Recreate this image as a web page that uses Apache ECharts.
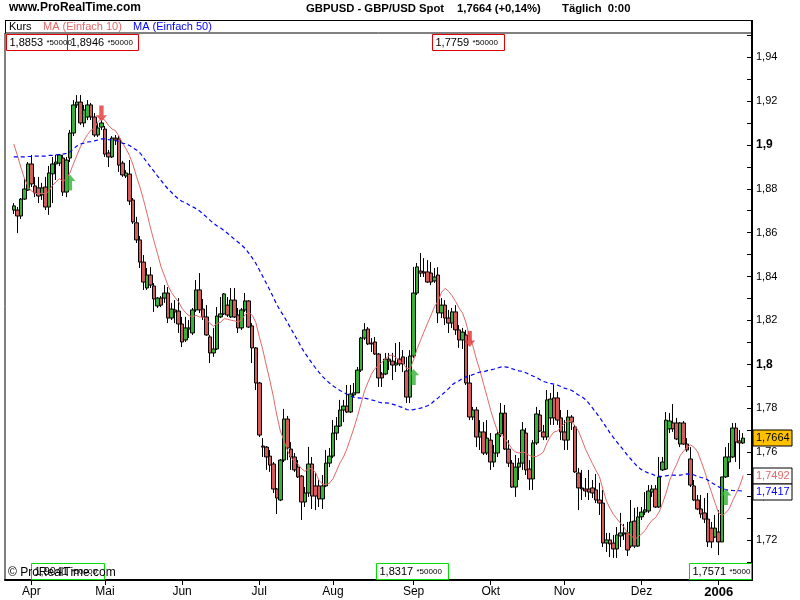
<!DOCTYPE html>
<html><head><meta charset="utf-8">
<script src="https://cdn.jsdelivr.net/npm/echarts@6/dist/echarts.min.js"></script>
<style>html,body{margin:0;padding:0;background:#fff}#c{width:800px;height:600px}</style>
</head><body><div id="c"></div>
<script>
// ---------- DATA ----------
const startDate = '2005-03-25'; // first daily candle (weekdays only)
const open = [1.8703,1.8703,1.8676,1.8753,1.8794,1.8913,1.8813,1.8804,1.8772,1.8808,
1.8717,1.8868,1.8913,1.8917,1.894,1.8785,1.894,1.9054,1.9182,1.9195,
1.91,1.9127,1.9182,1.9127,1.9045,1.9081,1.9072,1.8963,1.8945,1.9031,
1.9027,1.8917,1.8858,1.8867,1.8749,1.8645,1.8567,1.8466,1.8348,1.8407,
1.8357,1.8266,1.8302,1.8302,1.8325,1.8211,1.8248,1.8243,1.8184,1.8111,
1.8161,1.8143,1.8248,1.8339,1.8252,1.8216,1.8125,1.8052,1.807,1.8216,
1.823,1.827,1.8216,1.8293,1.8225,1.8166,1.8248,1.8289,1.8175,1.8075,
1.7915,1.7628,1.7623,1.7582,1.7546,1.7432,1.7382,1.7564,1.7751,1.7614,
1.7578,1.7532,1.7491,1.7373,1.7414,1.7546,1.7446,1.7446,1.7387,1.7446,
1.755,1.7582,1.7687,1.7719,1.7792,1.781,1.7783,1.7861,1.787,1.7974,
1.812,1.8161,1.8097,1.8102,1.8047,1.7956,1.7956,1.8024,1.8015,1.7997,
1.8024,1.8034,1.797,1.7851,1.8038,1.8325,1.8425,1.8421,1.8421,1.8416,
1.838,1.8407,1.8234,1.827,1.8211,1.8188,1.8239,1.8157,1.8111,1.8134,
1.7915,1.776,1.7792,1.7669,1.7692,1.7596,1.7655,1.7555,1.7596,1.7683,
1.7778,1.7614,1.755,1.7441,1.7532,1.755,1.7687,1.7523,1.7478,1.7642,
1.7769,1.7692,1.7669,1.7756,1.7847,1.7847,1.7756,1.7692,1.7655,1.776,
1.7715,1.7505,1.7437,1.7432,1.7432,1.7437,1.7428,1.7382,1.7368,1.7186,
1.72,1.7186,1.7159,1.7218,1.7227,1.7232,1.7172,1.7286,1.7172,1.7305,
1.7327,1.7332,1.7418,1.7432,1.735,1.7519,1.7523,1.7706,1.7733,1.7733,
1.7637,1.7733,1.7637,1.7569,1.7446,1.7382,1.7341,1.7323,1.7295,1.7254,
1.7213,1.7236,1.7191,1.7487,1.7555,1.7578,1.771,1.7651,1.7642];
const close = [1.8722,1.8676,1.8753,1.8799,1.8913,1.8822,1.8781,1.8767,1.8804,1.8717,
1.8872,1.8913,1.8922,1.8954,1.8785,1.8931,1.9054,1.9182,1.9195,1.91,
1.9159,1.9182,1.9127,1.9045,1.9077,1.91,1.8958,1.8945,1.9031,1.9022,
1.8908,1.8863,1.8872,1.8744,1.8649,1.8567,1.8466,1.8375,1.8407,1.8361,
1.8298,1.8302,1.827,1.8325,1.8211,1.8252,1.8239,1.8184,1.8102,1.8166,
1.8166,1.8248,1.8339,1.8248,1.8216,1.8134,1.8052,1.807,1.822,1.823,
1.8321,1.8225,1.8293,1.8216,1.8166,1.8248,1.8289,1.817,1.8075,1.7915,
1.7678,1.7623,1.7578,1.7541,1.7432,1.7391,1.7564,1.7751,1.7619,1.7578,
1.7519,1.7487,1.7373,1.7414,1.7546,1.74,1.74,1.7387,1.7446,1.755,
1.7582,1.7687,1.7719,1.7792,1.781,1.7783,1.7865,1.787,1.7974,1.812,
1.8157,1.8093,1.8093,1.8047,1.7938,1.7938,1.8024,1.8015,1.7997,1.8006,
1.8002,1.8002,1.7851,1.8038,1.8325,1.8444,1.8416,1.8416,1.8375,1.8375,
1.8398,1.8234,1.827,1.8211,1.8188,1.8239,1.8157,1.8111,1.8147,1.7915,
1.776,1.7792,1.7669,1.7692,1.7596,1.7664,1.7555,1.7596,1.7683,1.7778,
1.7614,1.755,1.7441,1.7532,1.755,1.7701,1.7519,1.7478,1.7642,1.7774,
1.7696,1.7669,1.7838,1.7842,1.7756,1.7746,1.7692,1.7655,1.776,1.7737,
1.751,1.7437,1.7432,1.7423,1.7418,1.7414,1.7382,1.7368,1.7186,1.72,
1.7182,1.7159,1.7223,1.7232,1.7232,1.7154,1.7282,1.7172,1.7305,1.7327,
1.7337,1.7423,1.7432,1.735,1.7487,1.7555,1.7746,1.7742,1.7706,1.766,
1.7733,1.7637,1.761,1.745,1.7382,1.7341,1.7318,1.7295,1.7191,1.7191,
1.7254,1.7191,1.7487,1.7578,1.7578,1.771,1.7646,1.7642,1.7664];
const low = [1.8685,1.8598,1.8662,1.8749,1.879,1.8808,1.8762,1.8735,1.8749,1.8703,
1.8681,1.8735,1.884,1.8904,1.8767,1.8762,1.8922,1.904,1.9168,1.9091,
1.9081,1.9113,1.9113,1.9036,1.9036,1.9068,1.8945,1.8899,1.894,1.8999,
1.8877,1.8854,1.8849,1.8726,1.864,1.8553,1.8439,1.8339,1.8339,1.8348,
1.8239,1.8257,1.8261,1.828,1.8188,1.8202,1.8188,1.8143,1.8079,1.8102,
1.812,1.8134,1.8239,1.8234,1.8202,1.813,1.8006,1.8034,1.8065,1.8211,
1.8225,1.8216,1.8211,1.8211,1.8143,1.8157,1.8239,1.8166,1.8006,1.7883,
1.7669,1.7578,1.7519,1.751,1.7414,1.7318,1.7377,1.7555,1.7564,1.7519,
1.751,1.7482,1.7291,1.735,1.7396,1.7341,1.7336,1.735,1.7341,1.7441,
1.7532,1.7573,1.7655,1.7715,1.7737,1.7778,1.7778,1.7851,1.787,1.7965,
1.8111,1.8088,1.8056,1.8043,1.7897,1.7897,1.7951,1.7974,1.7929,1.7965,
1.7992,1.7965,1.7824,1.7824,1.8029,1.8316,1.8398,1.8398,1.8371,1.8361,
1.8371,1.8188,1.8211,1.8179,1.8143,1.8166,1.8134,1.8075,1.807,1.7906,
1.7746,1.7746,1.7623,1.761,1.7587,1.7587,1.7519,1.7532,1.7578,1.7669,
1.761,1.7532,1.7437,1.7396,1.7473,1.7519,1.7496,1.7428,1.7428,1.7633,
1.7692,1.7655,1.7655,1.7724,1.7724,1.7724,1.7655,1.761,1.761,1.7701,
1.7505,1.7336,1.7382,1.7396,1.7382,1.7391,1.7368,1.7314,1.7168,1.7145,
1.7122,1.7118,1.7118,1.7168,1.72,1.7127,1.7163,1.7163,1.7168,1.7291,
1.7314,1.7323,1.7396,1.7346,1.7346,1.7514,1.7519,1.7687,1.7692,1.7655,
1.7623,1.7633,1.7601,1.7441,1.7377,1.7336,1.73,1.7277,1.7168,1.7163,
1.7209,1.7131,1.7191,1.7482,1.7487,1.7573,1.7555,1.7523,1.7637];
const high = [1.8735,1.8717,1.8758,1.8845,1.8922,1.8954,1.8854,1.8854,1.8827,1.8854,
1.8904,1.8945,1.8954,1.8958,1.8954,1.8945,1.9068,1.9204,1.9227,1.9227,
1.9182,1.9204,1.9191,1.9145,1.9104,1.9113,1.9086,1.8977,1.904,1.9045,
1.904,1.8927,1.8885,1.8931,1.8758,1.8672,1.8585,1.8498,1.8439,1.8443,
1.837,1.8307,1.8311,1.8361,1.8352,1.828,1.8293,1.8302,1.8216,1.8216,
1.8202,1.8257,1.8384,1.8416,1.8298,1.827,1.8134,1.8166,1.8261,1.8307,
1.8325,1.8307,1.8348,1.8348,1.8257,1.8257,1.8325,1.8293,1.8188,1.8079,
1.792,1.7664,1.7628,1.761,1.7555,1.7437,1.7569,1.7797,1.7765,1.7646,
1.7596,1.7564,1.7496,1.7441,1.7624,1.7578,1.7505,1.7473,1.7496,1.761,
1.7619,1.7746,1.776,1.7838,1.7838,1.7906,1.7906,1.7915,1.7988,1.8125,
1.8188,1.817,1.812,1.8125,1.8052,1.7965,1.8052,1.8052,1.8052,1.8097,
1.8102,1.8065,1.8034,1.8065,1.8444,1.8462,1.8507,1.8484,1.8475,1.8466,
1.8439,1.8443,1.8302,1.8293,1.8248,1.8257,1.827,1.8179,1.8166,1.8157,
1.7952,1.7806,1.7806,1.7746,1.7737,1.7746,1.7687,1.7633,1.7701,1.7824,
1.7815,1.7655,1.7564,1.7587,1.7573,1.7737,1.771,1.7564,1.7655,1.7806,
1.7792,1.7724,1.7883,1.787,1.7906,1.7874,1.7792,1.7746,1.7792,1.7769,
1.7724,1.7528,1.7519,1.7482,1.7519,1.7473,1.7501,1.746,1.7428,1.7232,
1.7232,1.7223,1.7259,1.7323,1.7273,1.7282,1.7382,1.7346,1.735,1.735,
1.7418,1.745,1.745,1.745,1.7578,1.7578,1.7783,1.7778,1.7819,1.7756,
1.7737,1.7742,1.7664,1.7623,1.7473,1.7405,1.7405,1.7391,1.7414,1.7282,
1.7314,1.7336,1.7487,1.7623,1.7642,1.7733,1.7733,1.7701,1.7687];
// moving averages before enough candles exist in the window
const ma10Lead = [1.9004,1.8954,1.8899,1.8849,1.8813,1.879,1.8781,1.8776,1.8781];
const ma50Lead = [1.8945,1.8945,1.8945,1.8945,1.8947,1.8947,1.8949,1.8949,1.8949,1.8949,
1.8952,1.8952,1.8954,1.8956,1.8958,1.8961,1.8967,1.8981,1.8995,1.9004,
1.9008,1.9013,1.9015,1.9018,1.9022,1.9027,1.9027,1.9024,1.9022,1.902,
1.9015,1.9008,1.9004,1.8997,1.8986,1.8977,1.8963,1.8942,1.892,1.8899,
1.8879,1.8858,1.8838,1.8817,1.8799,1.8783,1.8767,1.8753,1.8742];
// signal arrows: [candle index, price at arrow tip]
const buyArrows = [[16, 1.8865], [114, 1.7979], [203, 1.7432]];
const sellArrows = [[25, 1.9106], [130, 1.8079]];
// axis tick labels
const monthNames = ['Jan','Feb','Mär','Apr','Mai','Jun','Jul','Aug','Sep','Okt','Nov','Dez'];
const yLabelValues = [1.72,1.74,1.76,1.78,1.8,1.82,1.84,1.86,1.88,1.9,1.92,1.94];
const yTickValues = [1.71,1.72,1.73,1.74,1.75,1.76,1.77,1.78,1.79,1.8,1.81,1.82,1.83,1.84,1.85,1.86,1.87,1.88,1.89,1.9,1.91,1.92,1.93,1.94,1.95];
// right-side value tags
const lastPrice = 1.7664, lastMA10 = 1.7492, lastMA50 = 1.7417;

// ---------- BUILD ----------
function weekdays(start, n){
  const out=[]; const d=new Date(start+'T00:00:00Z');
  while(out.length<n){ const w=d.getUTCDay(); if(w!==0&&w!==6) out.push(d.toISOString().slice(0,10)); d.setUTCDate(d.getUTCDate()+1);} return out;
}
const PADL = 2, PADR = 2;
const dates = weekdays(startDate, open.length);
const cats = [];
for (let k=0;k<PADL;k++) cats.push('pl'+k);
dates.forEach(d=>cats.push(d));
for (let k=0;k<PADR;k++) cats.push('pr'+k);
const isDate = v => /^\d{4}-\d{2}-\d{2}$/.test(v);
function isMonthStart(idx){
  const v=cats[idx], p=cats[idx-1];
  return isDate(v) && p!==undefined && isDate(p) && v.slice(5,7)!==p.slice(5,7);
}
const candleData = open.map((o,i)=>[i+PADL, o, close[i], low[i], high[i]]);
function sma(n, lead){
  return close.map((c,i)=>{
    if (i < n-1) return [i+PADL, lead[i]];
    let s=0; for(let k=i-n+1;k<=i;k++) s+=close[k];
    return [i+PADL, +(s/n).toFixed(5)];
  });
}
const ma10 = sma(10, ma10Lead), ma50 = sma(50, ma50Lead);

const FONT = '"Liberation Sans", Arial, sans-serif';
const upArrow = 'path://M5,0 L10,6 L7,6 L7,15 L3,15 L3,6 L0,6 Z';
const downArrow = 'path://M3,0 L7,0 L7,9 L10,9 L5,15 L0,9 L3,9 Z';

const chart = echarts.init(document.getElementById('c'));
const option = {
  animation:false,
  backgroundColor:'#fff',
  textStyle:{fontFamily:FONT},
  grid:{left:5, right:48, top:33, bottom:20, show:true, borderColor:'#000', borderWidth:1, backgroundColor:'transparent'},
  xAxis:{
    type:'category', data:cats, boundaryGap:true,
    axisLine:{show:true, lineStyle:{color:'#000', width:2}},
    axisTick:{show:true, alignWithLabel:true, length:5, interval:(i)=>isMonthStart(i), lineStyle:{color:'#000'}},
    axisLabel:{interval:(i)=>isMonthStart(i), margin:6, color:'#000', fontSize:12, fontFamily:FONT,
      formatter:(v)=>{ const m=+v.slice(5,7); return m===1 ? '{y|'+v.slice(0,4)+'}' : monthNames[m-1]; },
      rich:{y:{fontWeight:'bold', fontSize:13, fontFamily:FONT, color:'#000'}}},
    splitLine:{show:false}
  },
  yAxis:{
    type:'value', position:'right', min:1.70175, max:1.95097, scale:true,
    axisLine:{show:true, lineStyle:{color:'#000', width:2}},
    axisTick:{show:true, inside:true, length:5, customValues:yTickValues, lineStyle:{color:'#000'}},
    axisLabel:{show:true, customValues:yLabelValues, margin:4, color:'#000', fontSize:11, fontFamily:FONT,
      formatter:(v)=>{ const r=Math.round(v*100)/100; const s=String(r).replace('.',',');
        return Math.abs(r*10-Math.round(r*10))<1e-6 ? '{b|'+s+'}' : s; },
      rich:{b:{fontWeight:'bold', fontSize:12, fontFamily:FONT, color:'#000'}}},
    splitLine:{show:false}
  },
  series:[
    {type:'candlestick', data:candleData, encode:{x:0, y:[1,2,3,4]}, barWidth:4,
      itemStyle:{color:'#36b336', color0:'#d65a5a', borderColor:'#000', borderColor0:'#000', borderWidth:1}},
    {type:'line', data:ma10, showSymbol:false, symbol:'none', lineStyle:{color:'#e26868', width:1}, z:3},
    {type:'line', data:ma50, showSymbol:false, symbol:'none', lineStyle:{color:'#0000ff', width:1.2, type:[4,3]}, z:3},
    {type:'scatter', data:buyArrows.map(a=>[a[0]+PADL, a[1]]), symbol:upArrow, symbolSize:[11,16], symbolOffset:[0,8],
      itemStyle:{color:'#33b233'}, z:5},
    {type:'scatter', data:sellArrows.map(a=>[a[0]+PADL, a[1]]), symbol:downArrow, symbolSize:[11,16], symbolOffset:[0,-8],
      itemStyle:{color:'#e53535'}, z:5}
  ]
};
chart.setOption(option);

function boxText(x, y, w, h, stroke, main, small, fill){
  return {type:'group', children:[
    {type:'rect', shape:{x:x, y:y, width:w, height:h}, style:{fill:fill||'#fff', stroke:stroke, lineWidth:1}, z:10},
    {type:'text', x:x+3, y:y+h/2, style:{text:'{m|'+main+'} {s|'+small+'}', verticalAlign:'middle',
      rich:{m:{fontSize:11, fontFamily:FONT, fill:'#000'}, s:{fontSize:8, fontFamily:FONT, fill:'#000'}}}, z:11}
  ]};
}
const yPx = v => chart.convertToPixel({yAxisIndex:0}, v);
function tag(v, text, color, bg){
  const y = Math.round(yPx(v));
  return {type:'group', children:[
    {type:'rect', shape:{x:753, y:y-8, width:39, height:16}, style:{fill:bg, stroke:'#000', lineWidth:1}, z:10},
    {type:'text', x:756, y:y, style:{text:text, fill:color, fontSize:11, fontFamily:FONT, verticalAlign:'middle'}, z:11}
  ]};
}
chart.setOption({graphic:[
  {type:'text', x:9, y:2, style:{text:'www.ProRealTime.com', fontSize:12, fontWeight:'bold', fontFamily:FONT, fill:'#000'}},
  {type:'text', x:306, y:3, style:{text:'GBPUSD - GBP/USD Spot', fontSize:11.3, fontWeight:'bold', fontFamily:FONT, fill:'#000'}},
  {type:'text', x:457, y:3, style:{text:'1,7664 (+0,14%)', fontSize:11.3, fontWeight:'bold', fontFamily:FONT, fill:'#000'}},
  {type:'text', x:562, y:3, style:{text:'Täglich  0:00', fontSize:11.3, fontWeight:'bold', fontFamily:FONT, fill:'#000'}},
  {type:'line', shape:{x1:5, y1:20.5, x2:753, y2:20.5}, style:{stroke:'#000', lineWidth:1}},
  {type:'line', shape:{x1:5.5, y1:20, x2:5.5, y2:33}, style:{stroke:'#000', lineWidth:1}},
  {type:'line', shape:{x1:752, y1:20, x2:752, y2:34}, style:{stroke:'#000', lineWidth:2}},
  {type:'text', x:9, y:27, style:{text:'Kurs', fontSize:11, fontFamily:FONT, fill:'#000', verticalAlign:'middle'}},
  {type:'text', x:43, y:27, style:{text:'MA (Einfach 10)', fontSize:11, fontFamily:FONT, fill:'#e26868', verticalAlign:'middle'}},
  {type:'text', x:133, y:27, style:{text:'MA (Einfach 50)', fontSize:11, fontFamily:FONT, fill:'#0000ff', verticalAlign:'middle'}},
  boxText(6.5, 34.5, 70, 16, '#e00000', '1,8853', '*50000'),
  boxText(67.5, 34.5, 71, 16, '#e00000', '1,8946', '*50000'),
  boxText(432.5, 34.5, 72, 16, '#e00000', '1,7759', '*50000'),
  boxText(31.5, 563.5, 73, 16, '#00e000', '1,9041', '*50000'),
  boxText(376.5, 563.5, 72, 16, '#00e000', '1,8317', '*50000'),
  boxText(689.5, 563.5, 62, 16, '#00e000', '1,7571', '*5000'),
  {type:'text', x:8, y:573, style:{text:'© ProRealTime.com', fontSize:12, fontFamily:FONT, fill:'#000', verticalAlign:'middle'}, z:12},
  tag(lastPrice, '1,7664', '#000', '#ffc000'),
  tag(lastMA10, '1,7492', '#e26868', '#fff'),
  tag(lastMA50, '1,7417', '#0000ff', '#fff')
]});
</script></body></html>
